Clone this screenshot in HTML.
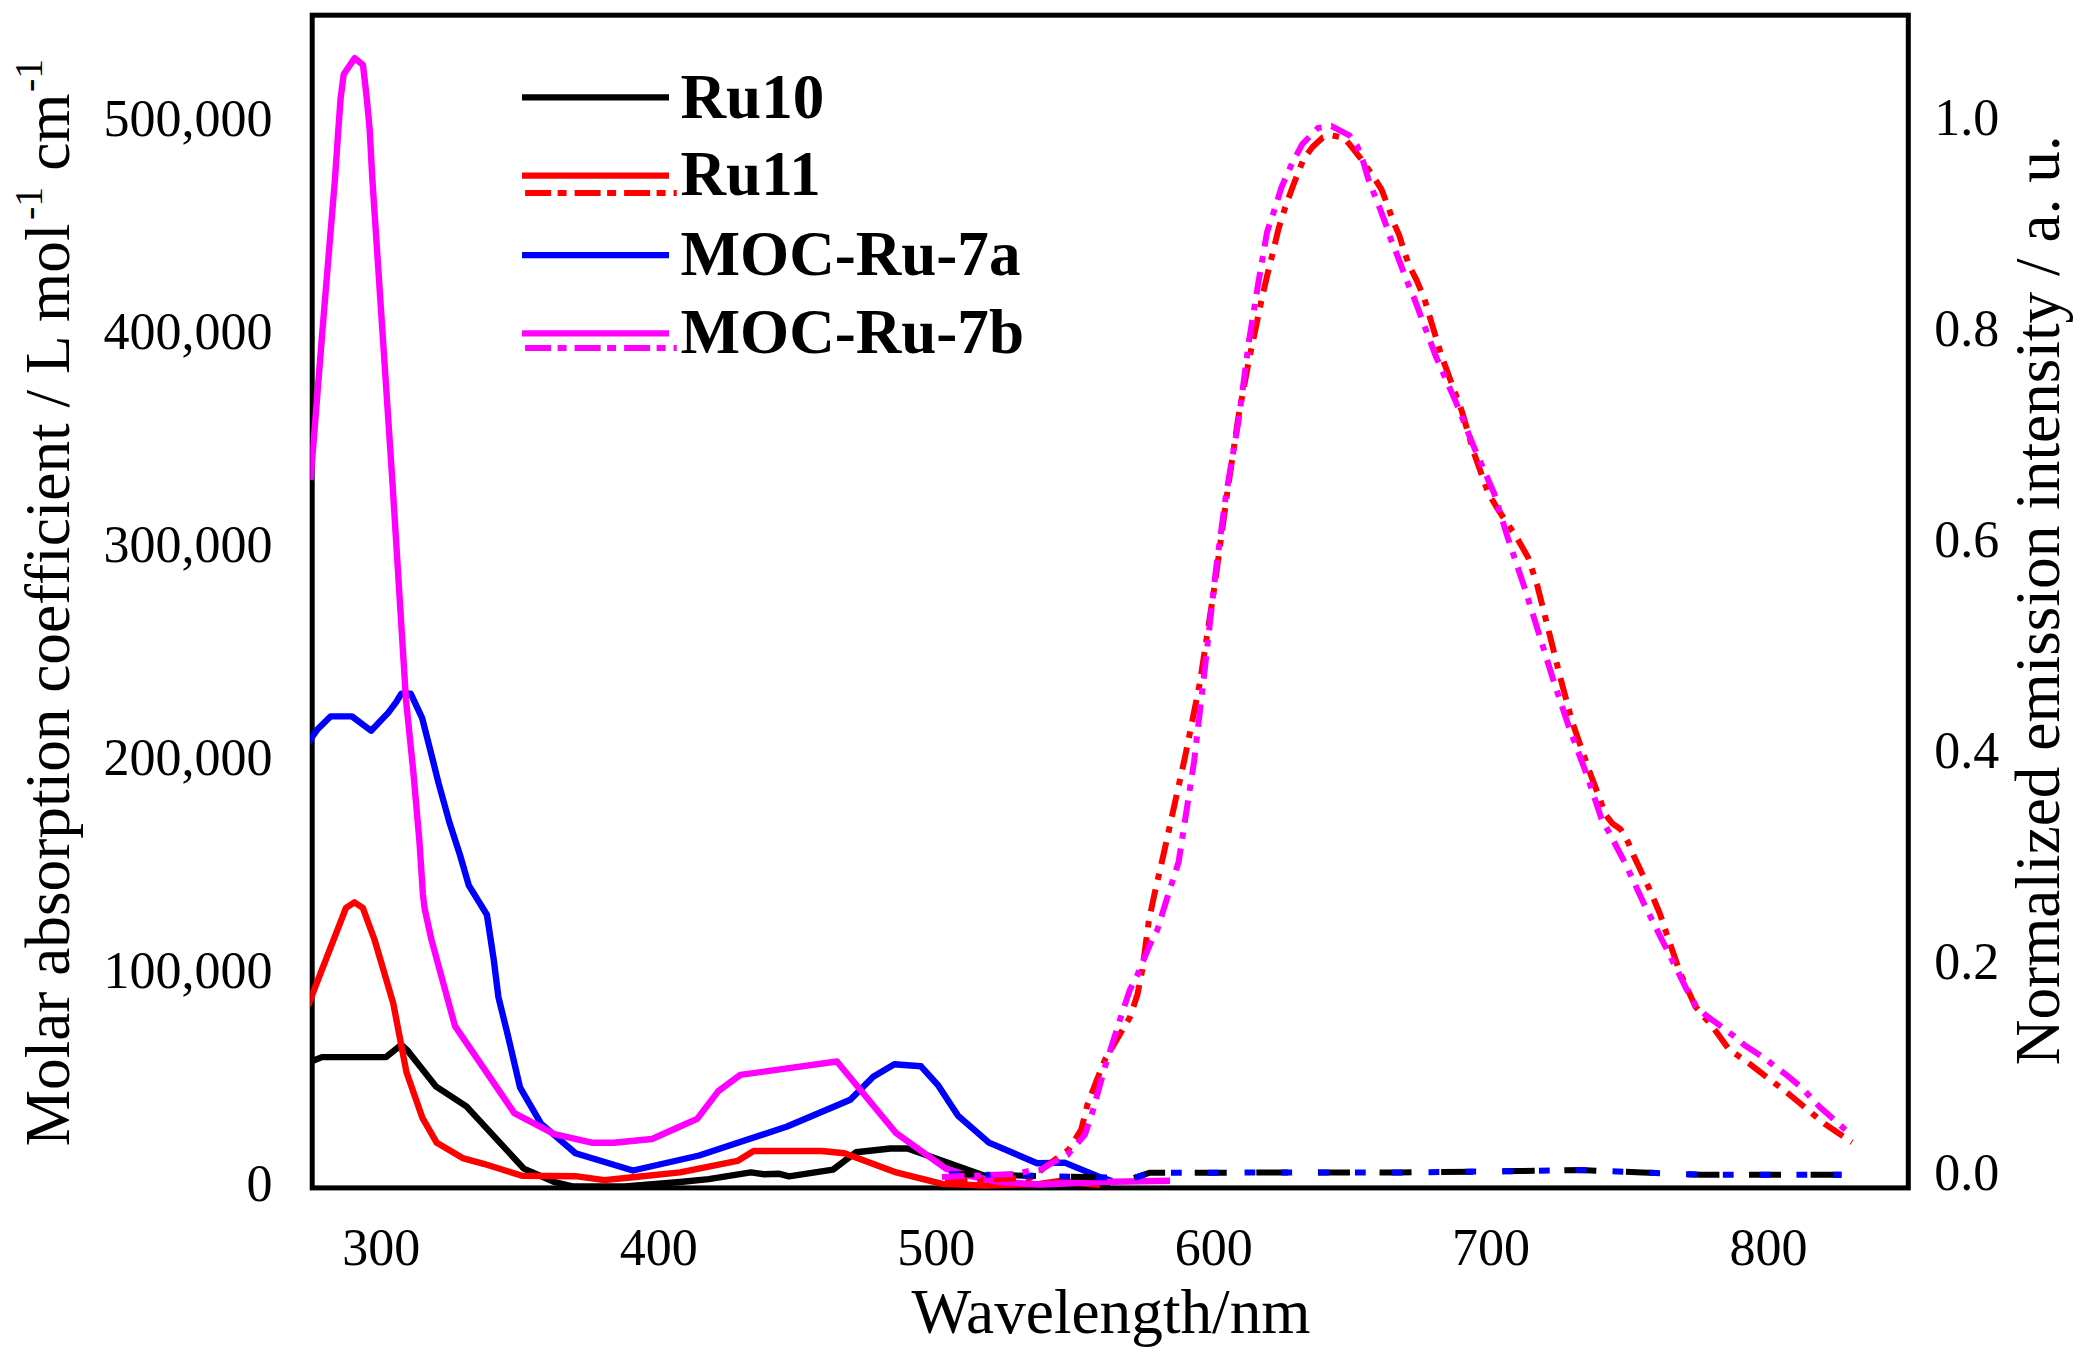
<!DOCTYPE html>
<html lang="en"><head><meta charset="utf-8"><title>Absorption and emission spectra</title>
<style>
html,body{margin:0;padding:0;background:#fff}
body{width:2091px;height:1362px;overflow:hidden}
svg{display:block}
text{font-family:"Liberation Serif",serif;fill:#000}
.tk{font-size:52px}
.ti{font-size:63.3px}
.lg{font-size:63.1px;font-weight:bold}
polyline,path{fill:none;stroke-linejoin:round}
</style></head><body>
<svg width="2091" height="1362" viewBox="0 0 2091 1362">
<rect x="0" y="0" width="2091" height="1362" fill="#fff"/>

<defs><clipPath id="pc"><rect x="310.3" y="12.4" width="1600.7" height="1178"/></clipPath></defs>
<rect x="312.2" y="15.2" width="1596.1" height="1172.7" fill="none" stroke="#000" stroke-width="5"/>
<g clip-path="url(#pc)">
<polyline points="308.0,1062.7 312.3,1061.0 322.0,1057.1 386.1,1057.1 401.4,1044.8 407.1,1050.0 435.8,1086.3 466.4,1106.4 523.8,1168.6 554.4,1182.0 573.5,1186.5 625.0,1186.5 680.0,1182.0 708.7,1179.1 750.8,1172.4 764.2,1174.3 779.5,1173.8 789.0,1176.3 833.0,1169.6 856.0,1152.3 890.4,1148.5 907.6,1148.5 945.9,1161.9 980.3,1174.3 1010.0,1183.0 1040.0,1186.0 1110.0,1186.0" stroke="#000" stroke-width="6.4"/>
<polyline points="308.0,1005.8 312.3,994.5 346.0,907.9 354.4,902.3 362.8,907.9 374.6,940.0 393.2,1003.1 406.4,1072.0 422.4,1117.9 436.8,1142.8 462.6,1158.1 483.6,1163.8 521.9,1175.7 575.5,1176.2 604.2,1180.1 632.9,1177.2 680.0,1172.4 737.4,1160.9 753.6,1151.0 821.6,1151.0 844.5,1153.3 896.2,1172.4 942.1,1183.9 985.0,1185.5 1040.0,1184.0 1060.0,1181.0 1100.0,1185.0" stroke="#f00" stroke-width="6.4"/>
<polyline points="308.0,743.0 312.3,736.7 317.6,729.2 330.5,716.4 351.9,716.4 371.1,730.7 388.1,712.9 396.0,702.3 401.2,693.8 410.8,693.8 422.2,718.2 430.0,749.0 438.8,784.0 449.3,822.0 460.0,855.0 468.8,885.4 486.9,914.8 493.8,960.1 498.4,997.0 508.0,1036.0 520.0,1087.3 541.0,1123.6 575.5,1153.3 632.9,1170.5 699.1,1155.5 787.1,1126.5 850.3,1099.7 873.2,1076.8 894.3,1064.3 921.0,1066.3 938.2,1085.4 957.9,1115.6 988.9,1142.6 1037.1,1163.2 1064.6,1162.6 1101.3,1177.6 1112.0,1181.0" stroke="#00f" stroke-width="6.4"/>
<polyline points="310.5,480.0 312.3,458.0 322.5,329.7 334.9,180.0 338.3,129.9 340.6,98.7 343.7,74.3 354.7,58.1 363.0,65.0 366.8,98.7 369.7,129.9 372.4,180.0 392.3,480.0 406.0,700.0 413.2,770.5 419.4,841.0 422.9,894.0 424.5,908.0 431.5,940.0 455.0,1026.1 514.3,1113.1 554.4,1134.2 592.7,1142.8 613.7,1142.8 652.0,1139.0 680.0,1126.5 697.2,1118.9 718.3,1091.1 740.3,1074.9 836.9,1061.5 896.2,1133.2 945.9,1168.6 967.0,1175.3 1000.0,1182.0 1040.0,1184.5 1100.0,1182.0 1170.0,1180.8" stroke="#f0f" stroke-width="6.4"/>
<polyline points="949.0,1174.0 1130.0,1178.0" stroke="#000" stroke-width="6.0" stroke-dasharray="26 35"/>
<polyline points="1134.0,1178.0 1150.0,1172.7 1400.0,1172.5 1519.0,1171.1 1580.0,1170.0 1642.0,1172.5 1701.0,1174.7 1841.5,1174.7" stroke="#000" stroke-width="6.0" stroke-dasharray="32 29.6" stroke-dashoffset="0"/>
<polyline points="945.0,1181.0 1030.0,1178.0 1040.5,1170.7 1055.0,1159.6 1068.7,1149.6 1081.2,1129.7 1087.4,1104.7 1096.8,1080.0 1104.9,1059.8 1129.9,1017.3 1137.4,994.8 1142.3,969.9 1148.6,922.4 1154.8,892.5 1162.3,860.0 1185.2,756.2 1199.9,682.8 1214.6,585.8 1227.8,488.8 1238.7,415.0 1249.0,360.0 1261.9,298.3 1267.0,276.3 1273.2,251.3 1278.8,227.8 1286.1,204.6 1294.9,180.8 1303.7,158.8 1312.5,147.0 1322.8,137.5 1331.6,135.3 1344.1,137.9 1352.2,147.7 1361.0,158.8 1372.8,175.6 1381.6,189.6 1388.9,208.7 1393.3,221.9 1399.2,235.1 1405.1,254.2 1410.2,267.5 1416.8,280.7 1424.2,298.3 1441.4,355.5 1461.9,411.3 1473.7,452.4 1488.4,493.5 1498.7,510.5 1516.4,536.9 1528.1,557.5 1536.9,583.9 1548.7,630.9 1560.4,677.9 1572.2,721.9 1589.4,771.2 1601.7,804.0 1604.5,813.4 1612.3,823.4 1620.5,829.3 1628.1,842.2 1633.4,855.1 1639.3,867.5 1648.7,887.4 1654.0,899.8 1659.8,913.5 1666.0,932.0 1680.4,973.6 1695.5,1006.7 1713.5,1027.8 1728.6,1048.9 1749.6,1063.9 1788.8,1094.0 1824.9,1124.1 1852.0,1142.2" stroke="#f00" stroke-width="6.0" stroke-dasharray="22.5 9.75 6.5 9.75"/>
<polyline points="949.0,1174.0 1130.0,1178.0" stroke="#00f" stroke-width="6.0" stroke-dasharray="10.8 26"/>
<polyline points="1134.0,1178.0 1150.0,1172.7 1400.0,1172.5 1519.0,1171.1 1580.0,1170.0 1642.0,1172.5 1701.0,1174.7 1841.5,1174.7" stroke="#00f" stroke-width="6.0" stroke-dasharray="10.8 26" stroke-dashoffset="-1"/>
<polyline points="942.0,1177.0 1015.0,1174.0 1029.0,1171.0 1040.0,1170.0 1057.7,1160.0 1067.4,1155.0 1084.9,1134.7 1092.4,1112.2 1104.9,1067.2 1119.9,1019.8 1129.9,989.8 1137.4,974.9 1149.8,944.9 1157.3,929.9 1167.3,897.5 1178.6,862.0 1194.0,762.1 1202.9,685.7 1216.1,568.2 1226.0,495.0 1238.7,420.0 1249.0,340.8 1258.2,283.6 1267.0,232.2 1274.3,210.2 1281.7,186.7 1291.5,164.6 1302.3,144.1 1318.1,127.9 1331.6,126.1 1349.3,135.3 1357.3,146.3 1363.2,161.7 1368.4,179.3 1373.5,192.5 1379.4,207.2 1386.0,224.9 1390.4,238.1 1396.3,252.8 1402.9,270.4 1408.0,283.6 1413.9,297.6 1435.5,355.5 1456.1,402.5 1473.7,446.5 1494.2,493.5 1507.5,536.9 1525.2,589.8 1539.9,636.8 1554.5,683.8 1569.2,727.8 1586.8,774.8 1601.5,818.9 1608.9,832.1 1626.2,865.3 1644.3,904.4 1662.3,940.5 1680.4,976.6 1685.9,988.0 1696.2,1006.3 1706.4,1015.8 1722.6,1027.5 1734.3,1036.4 1744.6,1045.2 1763.7,1057.6 1774.0,1065.7 1785.0,1073.8 1801.9,1087.8 1810.0,1096.6 1819.5,1106.8 1837.1,1122.3 1847.5,1131.8" stroke="#f0f" stroke-width="6.0" stroke-dasharray="22.5 9.75 6.5 9.75"/>
</g>
<line x1="522" y1="97.4" x2="669" y2="97.4" stroke="#000" stroke-width="6.2"/>
<line x1="522" y1="175.65" x2="669" y2="175.65" stroke="#f00" stroke-width="6.2"/>
<line x1="525.1" y1="193.0" x2="676.7" y2="193.0" stroke="#f00" stroke-width="6.0" stroke-dasharray="26 6.5 9 8"/>
<line x1="522" y1="255.2" x2="669" y2="255.2" stroke="#00f" stroke-width="6.2"/>
<line x1="522" y1="333.3" x2="669" y2="333.3" stroke="#f0f" stroke-width="6.2"/>
<line x1="525.1" y1="348.0" x2="676.7" y2="348.0" stroke="#f0f" stroke-width="6.0" stroke-dasharray="26 6.5 9 8"/>
<text class="lg" x="680.5" y="117.9">Ru10</text>
<text class="lg" x="680.5" y="195.4">Ru11</text>
<text class="lg" x="680.5" y="274.9">MOC-Ru-7a</text>
<text class="lg" x="680.5" y="352.5">MOC-Ru-7b</text>
<text class="tk" x="272.5" y="1201.0" text-anchor="end">0</text>
<text class="tk" x="272.5" y="988.0" text-anchor="end">100,000</text>
<text class="tk" x="272.5" y="775.0" text-anchor="end">200,000</text>
<text class="tk" x="272.5" y="562.0" text-anchor="end">300,000</text>
<text class="tk" x="272.5" y="349.0" text-anchor="end">400,000</text>
<text class="tk" x="272.5" y="136.0" text-anchor="end">500,000</text>
<text class="tk" x="1934.2" y="1190.0">0.0</text>
<text class="tk" x="1934.2" y="979.0">0.2</text>
<text class="tk" x="1934.2" y="768.0">0.4</text>
<text class="tk" x="1934.2" y="557.0">0.6</text>
<text class="tk" x="1934.2" y="346.0">0.8</text>
<text class="tk" x="1934.2" y="135.0">1.0</text>
<text class="tk" x="381.3" y="1265.0" text-anchor="middle">300</text>
<text class="tk" x="658.8" y="1265.0" text-anchor="middle">400</text>
<text class="tk" x="936.2" y="1265.0" text-anchor="middle">500</text>
<text class="tk" x="1213.7" y="1265.0" text-anchor="middle">600</text>
<text class="tk" x="1491.1" y="1265.0" text-anchor="middle">700</text>
<text class="tk" x="1768.6" y="1265.0" text-anchor="middle">800</text>
<text class="ti" x="1111" y="1333.1" text-anchor="middle">Wavelength/nm</text>
<text class="ti" style="font-size:63.3px" transform="translate(68.8,1146.3) rotate(-90)">Molar absorption coefficient / L mol<tspan font-size="40" dx="3.5" dy="-27">-1</tspan><tspan dy="27"> cm</tspan><tspan font-size="40" dx="1.5" dy="-27">-1</tspan></text>
<text class="ti" transform="translate(2058.6,1065.3) rotate(-90)">Normalized emission intensity / a. u.</text>
</svg></body></html>
